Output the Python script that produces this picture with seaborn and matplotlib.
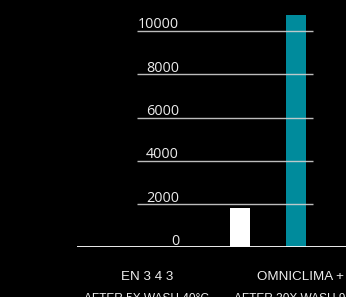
import matplotlib
matplotlib.use("Agg")
import matplotlib.pyplot as plt
import matplotlib.transforms as mtransforms
import seaborn as sns
import pandas as pd

# === DATA ===
bar_names = ["EN 343", "OMNICLIMA +"]
bar_values = [1800, 10750]
bar_colors = ["#ffffff", "#008b9c"]
y_ticks = [0, 2000, 4000, 6000, 8000, 10000]
group_titles = ["EN 3 4 3", "OMNICLIMA +"]
group_subtitles = ["AFTER 5X WASH 40°C", "AFTER 30X WASH 90°C"]

df = pd.DataFrame({"name": bar_names, "value": bar_values})

# === FIGURE ===
sns.set_style("dark")
W, H, DPI = 346, 297, 100
fig = plt.figure(figsize=(W / DPI, H / DPI), dpi=DPI, facecolor="black")

# pixel layout: baseline y=247.3, 10000 at y=31, bars centered at 240 / 296
base_px = 247.3
px_per_unit = (base_px - 31) / 10000
ax = fig.add_axes([77 / W, (H - base_px) / H, 1 - 77 / W, base_px / H])
ax.set_facecolor("black")

sns.barplot(data=df, x="name", y="value", hue="name", palette=bar_colors,
            width=20 / 56, legend=False, ax=ax, zorder=1, saturation=1,
            edgecolor="none", linewidth=0)

ax.set_xlim((77 - 240) / 56, (346 - 240) / 56)
ax.set_ylim(0, base_px / px_per_unit)
ax.axis("off")

# gridlines drawn over bars
x0, x1 = (137 - 240) / 56, (313 - 240) / 56
ax.hlines(y_ticks[1:], x0, x1, colors="#d2d2d2", linewidth=1.0, alpha=0.9, zorder=3)
ax.axhline(0, color="white", linewidth=1.3, zorder=3)

# tick labels sitting just above the lines
lbl_tr = mtransforms.offset_copy(ax.transData, fig=fig, y=2.5, units="dots")
for t in y_ticks:
    ax.text((179 - 240) / 56, t, f"{t}", transform=lbl_tr, ha="right", va="baseline",
            color="#ececec", fontsize=10.4, family=["Open Sans", "DejaVu Sans"])

# category labels below the baseline
for name, sub, xc in zip(group_titles, group_subtitles, [147, 300]):
    xd = (xc - 240) / 56
    ax.text(xd, -(279.5 - base_px) / px_per_unit, name, ha="center", va="baseline",
            color="#eeeeee", fontsize=9.6, family=["Liberation Sans", "DejaVu Sans"],
            clip_on=False)
    ax.text(xd, -(302 - base_px) / px_per_unit, sub, ha="center", va="baseline",
            color="#eeeeee", fontsize=8.6, family=["Liberation Sans", "DejaVu Sans"],
            clip_on=False)

fig.savefig("out.png", dpi=DPI, facecolor="black")
